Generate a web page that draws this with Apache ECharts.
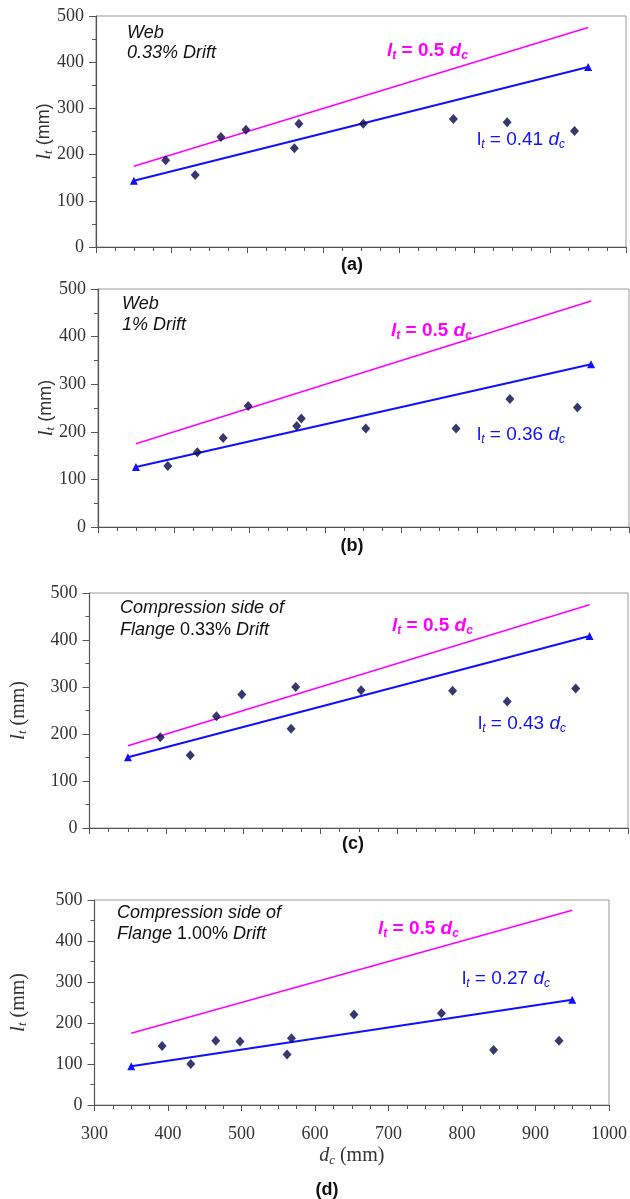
<!DOCTYPE html>
<html>
<head>
<meta charset="utf-8">
<script src="https://cdn.jsdelivr.net/npm/echarts@6/dist/echarts.min.js"></script>
<style>
  html, body { margin: 0; padding: 0; background: #fff; }
  #chart { width: 630px; height: 1199px; }
</style>
</head>
<body>
<div id="chart"></div>
<script>
// column depth d_c (mm), same specimens in every panel
const dc = [392, 431, 465, 498, 562, 568, 653, 772, 843, 932]
// measured l_t (mm)
const ltWeb033 = [188, 156, 238, 254, 214, 267, 267, 277, 270, 251]
const ltWeb1 = [128, 157, 187, 254, 212, 228, 207, 207, 269, 251]
const ltFlange033 = [193, 155, 238, 284, 211, 300, 293, 292, 269, 297]
const ltFlange1 = [144, 100, 157, 155, 123, 163, 221, 224, 134, 157]
// fitted lines, end points only
const fitDc = [350, 950]
const upperLt = [175, 475]          // lt = 0.5 dc
const fitWeb033 = [143.5, 389.5]    // 0.41
const fitWeb1 = [126, 342]          // 0.36
const fitFlange033 = [150.5, 408.5] // 0.43
const fitFlange1 = [94.5, 256.5]    // 0.27
const xTicks = [300, 400, 500, 600, 700, 800, 900, 1000]
const yTicks = [0, 100, 200, 300, 400, 500]

const MAG = '#ff00ff'
const BLUE = '#1010ff'
const SANS = 'Liberation Sans'
const SERIF = 'Liberation Serif'

const panels = [
  { grid: { left: 96, right: 4, top: 16, height: 231 }, pts: ltWeb033, fit: fitWeb033, coef: '0.41',
    nameGap: 41, serifName: false, tag: '(a)', tagPos: [352, 265],
    note1: { x: 127, y: 33, text: 'Web' }, note2: { x: 127, y: 53, text: '{i|0.33% Drift}' },
    mag: [387, 51], blue: [477, 140] },
  { grid: { left: 98, right: 1, top: 289, height: 238 }, pts: ltWeb1, fit: fitWeb1, coef: '0.36',
    nameGap: 41, serifName: false, tag: '(b)', tagPos: [352, 546],
    note1: { x: 122, y: 304, text: 'Web' }, note2: { x: 122, y: 325, text: '{i|1% Drift}' },
    mag: [391, 331], blue: [477, 435] },
  { grid: { left: 89, right: 2, top: 593, height: 235 }, pts: ltFlange033, fit: fitFlange033, coef: '0.43',
    nameGap: 60, serifName: true, tag: '(c)', tagPos: [353, 844],
    note1: { x: 120, y: 608, text: 'Compression side of' }, note2: { x: 120, y: 630, text: '{i|Flange}{n| 0.33% }{i|Drift}' },
    mag: [392, 626], blue: [478, 724] },
  { grid: { left: 94, right: 21, top: 900, height: 205 }, pts: ltFlange1, fit: fitFlange1, coef: '0.27',
    nameGap: 65, serifName: true, tag: '(d)', tagPos: [327, 1190],
    note1: { x: 117, y: 913, text: 'Compression side of' }, note2: { x: 117, y: 934, text: '{i|Flange}{n| 1.00% }{i|Drift}' },
    mag: [378, 929], blue: [462, 979] }
]

function formulaRich(color, bold) {
  const w = bold ? 'bold' : 'normal'
  return {
    l: { fontFamily: SANS, fontSize: 19, fontStyle: bold ? 'italic' : 'normal', fontWeight: w, fill: color, lineHeight: 22 },
    d: { fontFamily: SANS, fontSize: 19, fontStyle: 'italic', fontWeight: w, fill: color, lineHeight: 22 },
    n: { fontFamily: SANS, fontSize: 19, fontWeight: w, fill: color, lineHeight: 22 },
    s: { fontFamily: SANS, fontSize: 12, fontStyle: 'italic', fontWeight: w, fill: color, lineHeight: 12, verticalAlign: 'bottom' }
  }
}
const noteRich = {
  i: { fontFamily: SANS, fontSize: 18, fontStyle: 'italic', fill: '#111' },
  n: { fontFamily: SANS, fontSize: 18, fill: '#111' }
}

const grids = [], xAxes = [], yAxes = [], series = [], graphics = []
const tickColor = '#555'

panels.forEach((p, i) => {
  grids.push(Object.assign({ show: true, borderColor: '#999', borderWidth: 1, backgroundColor: 'transparent' }, p.grid))
  xAxes.push({
    gridIndex: i, type: 'value', min: xTicks[0], max: xTicks[xTicks.length - 1], interval: 100,
    axisLine: { onZero: false, lineStyle: { color: tickColor, width: 1.2 } },
    axisTick: { length: 6, lineStyle: { color: tickColor } },
    minorTick: { show: true, splitNumber: 4, length: 4, lineStyle: { color: tickColor } },
    splitLine: { show: false },
    axisLabel: { show: i === 3, margin: 20, fontFamily: SERIF, fontSize: 18, color: '#333',
      formatter: v => String(v) },
    name: i === 3 ? '{d|d}{c|c}{m| (mm)}' : '',
    nameLocation: 'middle', nameGap: 40, nameMoveOverlap: false,
    nameTextStyle: {
      rich: {
        d: { fontFamily: SERIF, fontStyle: 'italic', fontSize: 20, color: '#333', lineHeight: 22 },
        c: { fontFamily: SERIF, fontStyle: 'italic', fontSize: 13, color: '#333', lineHeight: 12, verticalAlign: 'bottom' },
        m: { fontFamily: SERIF, fontSize: 20, color: '#333', lineHeight: 22 }
      }
    }
  })
  yAxes.push({
    gridIndex: i, type: 'value', min: yTicks[0], max: yTicks[yTicks.length - 1], interval: 100,
    axisLine: { show: true, lineStyle: { color: tickColor, width: 1.2 } },
    axisTick: { show: true, length: 7, lineStyle: { color: tickColor } },
    minorTick: { show: true, splitNumber: 2, length: 4, lineStyle: { color: tickColor } },
    splitLine: { show: false },
    axisLabel: { margin: 12, fontFamily: SERIF, fontSize: 18, color: '#333' },
    name: '{l|l}{t|t}{m| (mm)}',
    nameLocation: 'middle', nameGap: p.nameGap, nameMoveOverlap: false,
    nameTextStyle: {
      rich: {
        l: { fontFamily: SERIF, fontStyle: 'italic', fontSize: 21, color: '#333', lineHeight: 22 },
        t: { fontFamily: SERIF, fontStyle: 'italic', fontSize: 13, color: '#333', lineHeight: 12, verticalAlign: 'bottom' },
        m: p.serifName
          ? { fontFamily: SERIF, fontSize: 20, color: '#333', lineHeight: 22 }
          : { fontFamily: SANS, fontSize: 18, color: '#333', lineHeight: 22 }
      }
    }
  })
  series.push({
    type: 'scatter', xAxisIndex: i, yAxisIndex: i, symbol: 'diamond', symbolSize: [9, 10],
    itemStyle: { color: '#06064a' }, z: 3,
    data: dc.map((x, k) => [x, p.pts[k]])
  })
  series.push({
    type: 'line', xAxisIndex: i, yAxisIndex: i, symbol: 'none',
    lineStyle: { color: MAG, width: 1.6 }, z: 2,
    data: fitDc.map((x, k) => [x, upperLt[k]])
  })
  series.push({
    type: 'line', xAxisIndex: i, yAxisIndex: i, symbol: 'triangle', symbolSize: 8, showSymbol: true,
    itemStyle: { color: BLUE }, lineStyle: { color: BLUE, width: 2 }, z: 2,
    data: fitDc.map((x, k) => [x, p.fit[k]])
  })

  graphics.push({ type: 'text', x: p.note1.x, y: p.note1.y,
    style: { text: p.note1.text, fontFamily: SANS, fontSize: 18, fontStyle: 'italic', fill: '#111', verticalAlign: 'middle' } })
  graphics.push({ type: 'text', x: p.note2.x, y: p.note2.y,
    style: { text: p.note2.text, rich: noteRich, verticalAlign: 'middle' } })
  graphics.push({ type: 'text', x: p.mag[0], y: p.mag[1],
    style: { text: '{l|l}{s|t}{n| = 0.5 }{d|d}{s|c}', rich: formulaRich(MAG, true), verticalAlign: 'middle' } })
  graphics.push({ type: 'text', x: p.blue[0], y: p.blue[1],
    style: { text: '{l|l}{s|t}{n| = ' + p.coef + ' }{d|d}{s|c}', rich: formulaRich(BLUE, false), verticalAlign: 'middle' } })
  graphics.push({ type: 'text', x: p.tagPos[0], y: p.tagPos[1],
    style: { text: p.tag, fontFamily: SANS, fontSize: 18, fontWeight: 'bold', fill: '#111', align: 'center', verticalAlign: 'middle' } })
})

const chart = echarts.init(document.getElementById('chart'), null, { renderer: 'canvas' })
chart.setOption({
  animation: false,
  backgroundColor: '#fff',
  grid: grids,
  xAxis: xAxes,
  yAxis: yAxes,
  series: series,
  graphic: graphics
})
</script>
</body>
</html>
